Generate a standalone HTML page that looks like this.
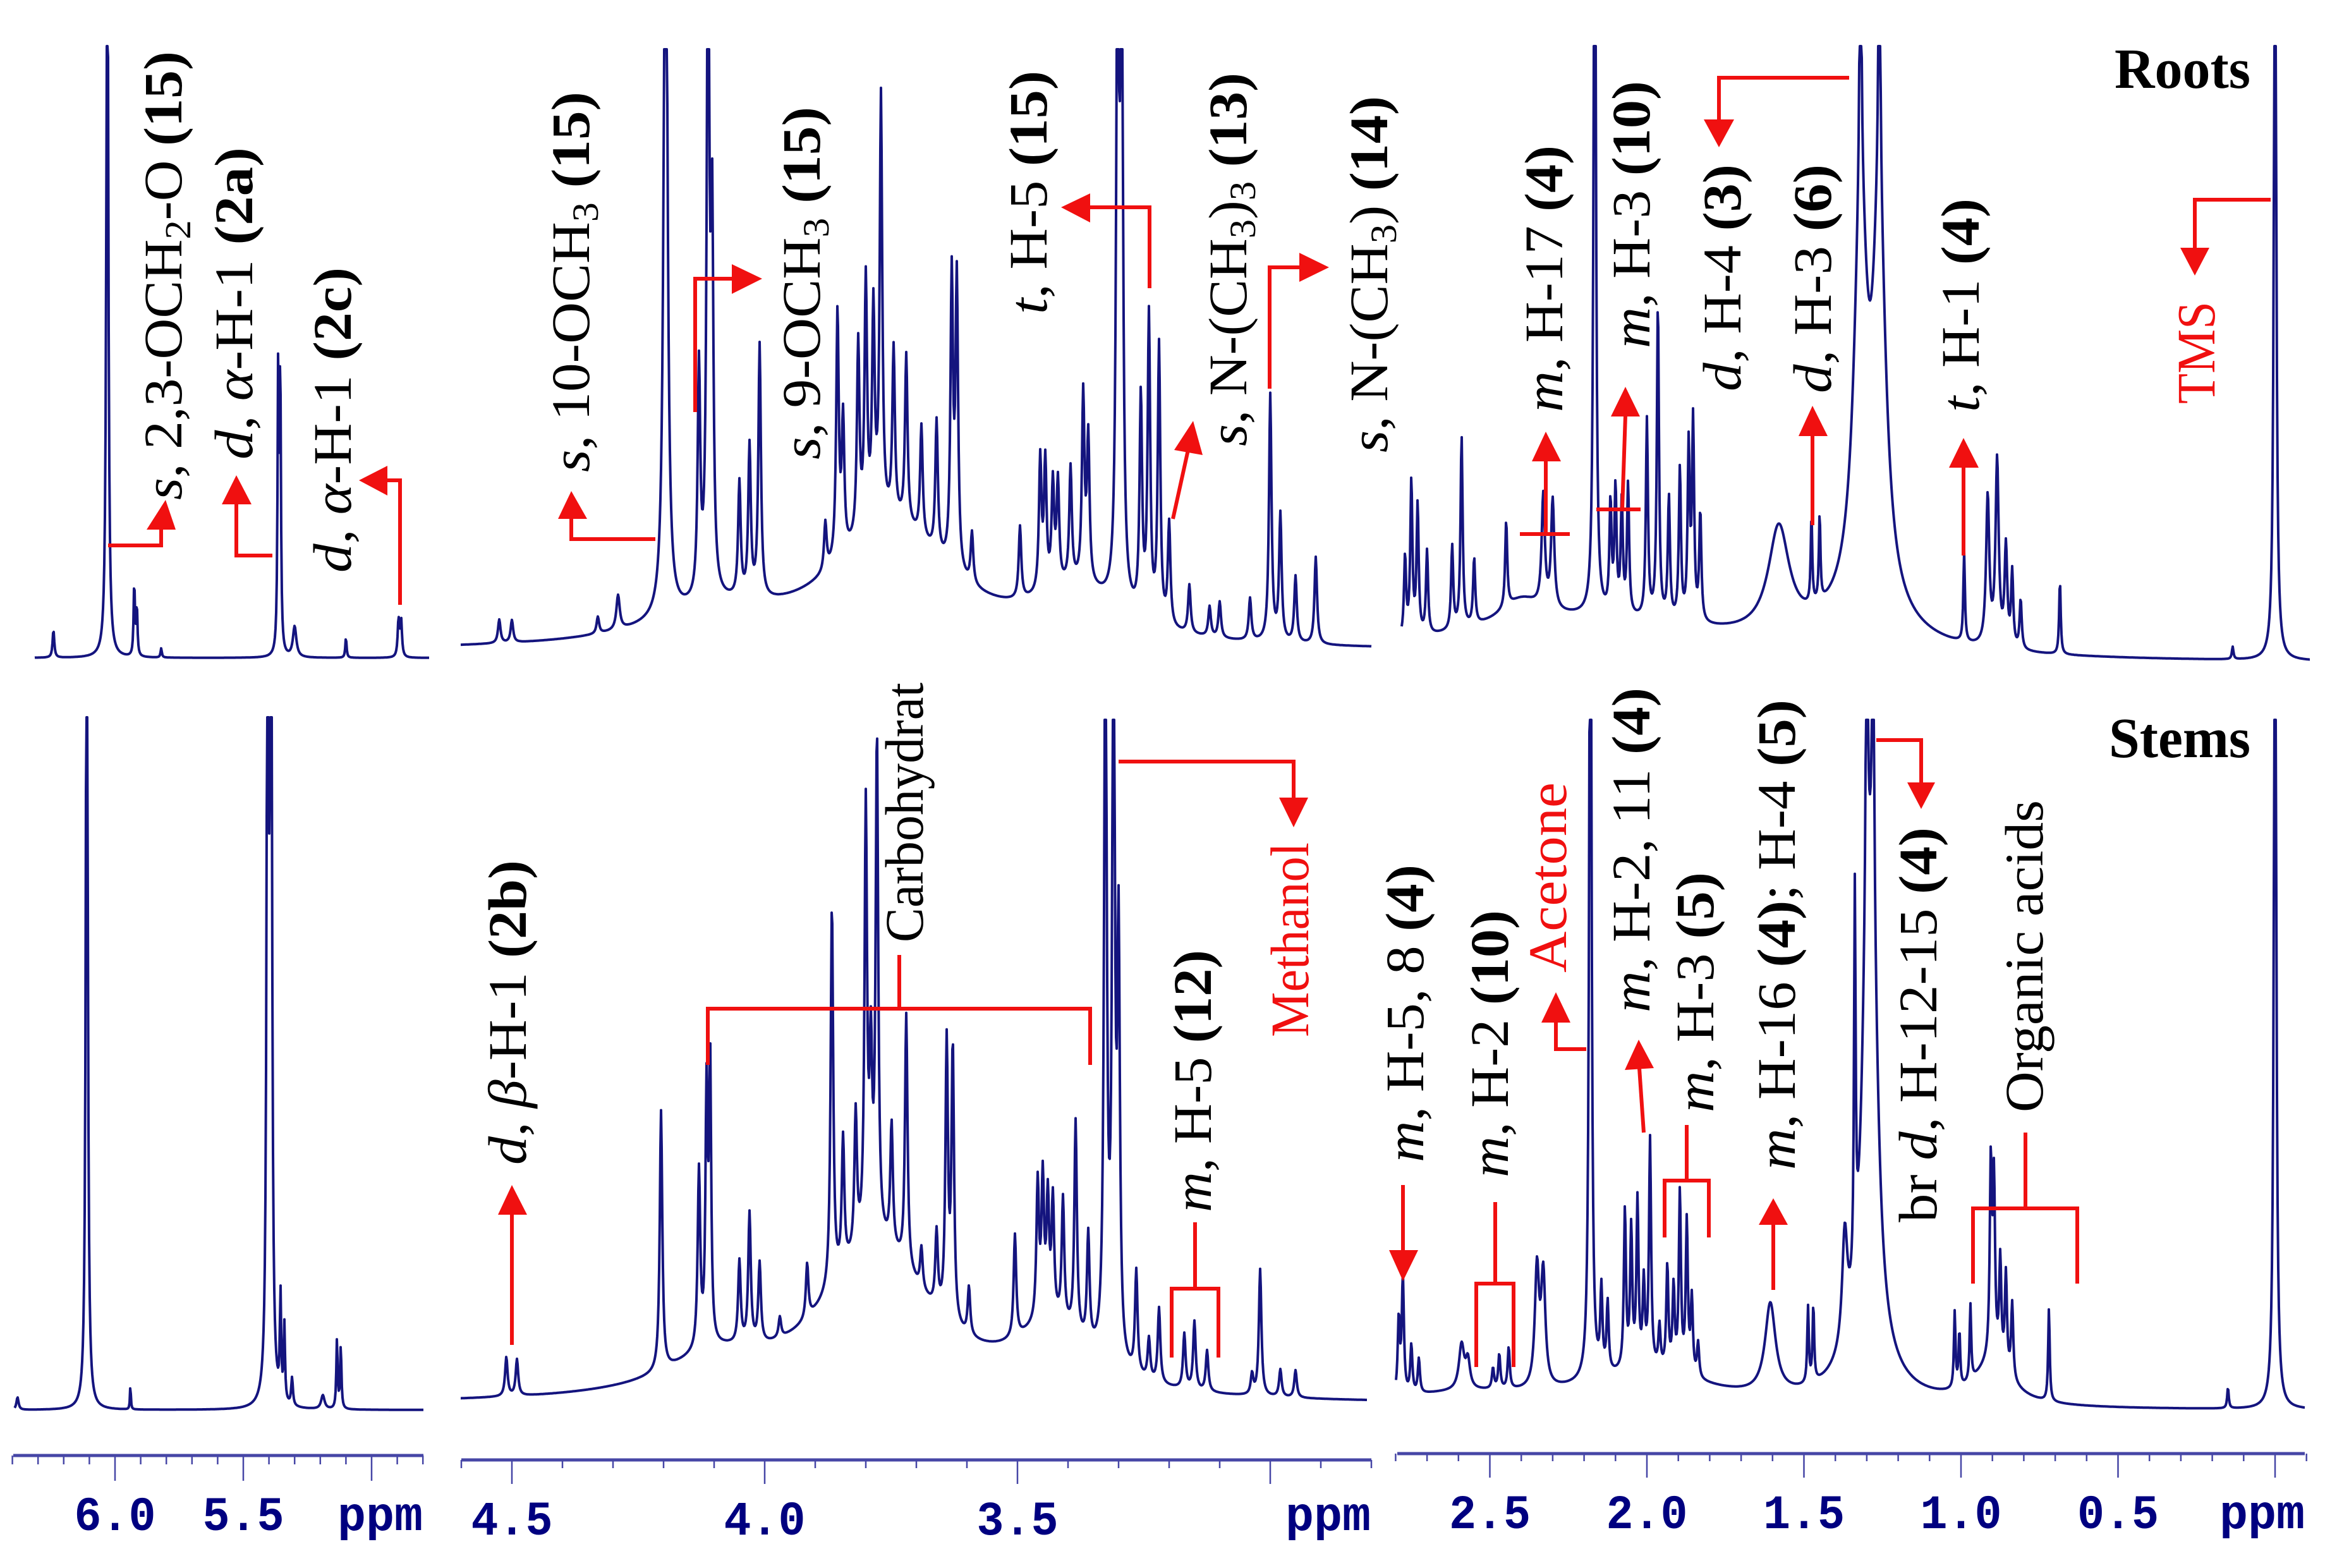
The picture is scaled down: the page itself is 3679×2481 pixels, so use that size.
<!DOCTYPE html>
<html>
<head>
<meta charset="utf-8">
<style>
html,body{margin:0;padding:0;background:#fff;}
svg{display:block;}
.lab{font-family:"Liberation Serif",serif;font-size:86px;fill:#000;}
.red{fill:#f01010;}
.ax{font-family:"Liberation Mono",monospace;font-weight:bold;font-size:76px;fill:#000080;}
.arr{fill:none;stroke:#f01010;stroke-width:6;}
.head{fill:#f01010;}
</style>
</head>
<body>
<svg id="fig" xmlns="http://www.w3.org/2000/svg" width="3679" height="2481" viewBox="0 0 3679 2481">
<rect x="0" y="0" width="3679" height="2481" fill="#fff"/>
<g id="spectra"></g>
<g id="axes"></g>

<text x="3346" y="139" font-family="Liberation Serif, serif" font-weight="bold" font-size="90" textLength="215" lengthAdjust="spacingAndGlyphs">Roots</text>
<text x="3337" y="1198" font-family="Liberation Serif, serif" font-weight="bold" font-size="90" textLength="224" lengthAdjust="spacingAndGlyphs">Stems</text>

<g>
<text class="lab" transform="translate(287,791) rotate(-90)" textLength="710" lengthAdjust="spacingAndGlyphs"><tspan font-style="italic">s</tspan>, 2,3-OCH<tspan font-size="58" dy="14">2</tspan><tspan dy="-14">-O </tspan><tspan font-weight="bold">(15)</tspan></text>
<text class="lab" transform="translate(399,727) rotate(-90)" textLength="494" lengthAdjust="spacingAndGlyphs"><tspan font-style="italic">d</tspan>, <tspan font-style="italic">α</tspan>-H-1 <tspan font-weight="bold">(2a)</tspan></text>
<text class="lab" transform="translate(555,906) rotate(-90)" textLength="483" lengthAdjust="spacingAndGlyphs"><tspan font-style="italic">d</tspan>, <tspan font-style="italic">α</tspan>-H-1 <tspan font-weight="bold">(2c)</tspan></text>
<text class="lab" transform="translate(932,747) rotate(-90)" textLength="602" lengthAdjust="spacingAndGlyphs"><tspan font-style="italic">s</tspan>, 10-OCH<tspan font-size="58" dy="14">3</tspan><tspan dy="-14"> </tspan><tspan font-weight="bold">(15)</tspan></text>
<text class="lab" transform="translate(1297,727) rotate(-90)" textLength="558" lengthAdjust="spacingAndGlyphs"><tspan font-style="italic">s</tspan>, 9-OCH<tspan font-size="58" dy="14">3</tspan><tspan dy="-14"> </tspan><tspan font-weight="bold">(15)</tspan></text>
<text class="lab" transform="translate(1656,497) rotate(-90)" textLength="385" lengthAdjust="spacingAndGlyphs"><tspan font-style="italic">t</tspan>, H-5 <tspan font-weight="bold">(15)</tspan></text>
<text class="lab" transform="translate(1972,706) rotate(-90)" textLength="591" lengthAdjust="spacingAndGlyphs"><tspan font-style="italic">s</tspan>, N-(CH<tspan font-size="58" dy="14">3</tspan><tspan dy="-14">)</tspan><tspan font-size="58" dy="14">3</tspan><tspan dy="-14"> </tspan><tspan font-weight="bold">(13)</tspan></text>
<text class="lab" transform="translate(2195,716) rotate(-90)" textLength="564" lengthAdjust="spacingAndGlyphs"><tspan font-style="italic">s</tspan>, N-(CH<tspan font-size="58" dy="14">3</tspan><tspan dy="-14">) </tspan><tspan font-weight="bold">(14)</tspan></text>
<text class="lab" transform="translate(2472,652) rotate(-90)" textLength="422" lengthAdjust="spacingAndGlyphs"><tspan font-style="italic">m</tspan>, H-17 <tspan font-weight="bold">(4)</tspan></text>
<text class="lab" transform="translate(2610,551) rotate(-90)" textLength="423" lengthAdjust="spacingAndGlyphs"><tspan font-style="italic">m</tspan>, H-3 <tspan font-weight="bold">(10)</tspan></text>
<text class="lab" transform="translate(2754,619) rotate(-90)" textLength="359" lengthAdjust="spacingAndGlyphs"><tspan font-style="italic">d</tspan>, H-4 <tspan font-weight="bold">(3)</tspan></text>
<text class="lab" transform="translate(2897,622) rotate(-90)" textLength="362" lengthAdjust="spacingAndGlyphs"><tspan font-style="italic">d</tspan>, H-3 <tspan font-weight="bold">(6)</tspan></text>
<text class="lab" transform="translate(3131,652) rotate(-90)" textLength="338" lengthAdjust="spacingAndGlyphs"><tspan font-style="italic">t</tspan>, H-1 <tspan font-weight="bold">(4)</tspan></text>
<text class="lab red" transform="translate(3504,639) rotate(-90)" textLength="162" lengthAdjust="spacingAndGlyphs">TMS</text>
</g>

<g>
<text class="lab" transform="translate(832,1843) rotate(-90)" textLength="482" lengthAdjust="spacingAndGlyphs"><tspan font-style="italic">d</tspan>, <tspan font-style="italic">β</tspan>-H-1 <tspan font-weight="bold">(2b)</tspan></text>
<text class="lab" transform="translate(1460,1491) rotate(-90)" textLength="411" lengthAdjust="spacingAndGlyphs">Carbohydrat</text>
<text class="lab" transform="translate(1916,1918) rotate(-90)" textLength="415" lengthAdjust="spacingAndGlyphs"><tspan font-style="italic">m</tspan>, H-5 <tspan font-weight="bold">(12)</tspan></text>
<text class="lab red" transform="translate(2070,1641) rotate(-90)" textLength="308" lengthAdjust="spacingAndGlyphs">Methanol</text>
<text class="lab" transform="translate(2252,1839) rotate(-90)" textLength="471" lengthAdjust="spacingAndGlyphs"><tspan font-style="italic">m</tspan>, H-5, 8 <tspan font-weight="bold">(4)</tspan></text>
<text class="lab" transform="translate(2386,1863) rotate(-90)" textLength="423" lengthAdjust="spacingAndGlyphs"><tspan font-style="italic">m</tspan>, H-2 <tspan font-weight="bold">(10)</tspan></text>
<text class="lab red" transform="translate(2478,1539) rotate(-90)" textLength="301" lengthAdjust="spacingAndGlyphs">Acetone</text>
<text class="lab" transform="translate(2610,1602) rotate(-90)" textLength="514" lengthAdjust="spacingAndGlyphs"><tspan font-style="italic">m</tspan>, H-2, 11 <tspan font-weight="bold">(4)</tspan></text>
<text class="lab" transform="translate(2711,1760) rotate(-90)" textLength="380" lengthAdjust="spacingAndGlyphs"><tspan font-style="italic">m</tspan>, H-3 <tspan font-weight="bold">(5)</tspan></text>
<text class="lab" transform="translate(2840,1851) rotate(-90)" textLength="744" lengthAdjust="spacingAndGlyphs"><tspan font-style="italic">m</tspan>, H-16 <tspan font-weight="bold">(4)</tspan>; H-4 <tspan font-weight="bold">(5)</tspan></text>
<text class="lab" transform="translate(3064,1934) rotate(-90)" textLength="625" lengthAdjust="spacingAndGlyphs">br <tspan font-style="italic">d</tspan>, H-12-15 <tspan font-weight="bold">(4)</tspan></text>
<text class="lab" transform="translate(3232,1760) rotate(-90)" textLength="494" lengthAdjust="spacingAndGlyphs">Organic acids</text>
</g>

<g>
<polyline class="arr" points="171,863 255,863 255,836"/>
<polygon class="head" points="232,838 278,838 262,791"/>
<polyline class="arr" points="431,879 374,879 374,796"/>
<polygon class="head" points="351,798 398,798 374,752"/>
<polyline class="arr" points="633,957 633,760 611,760"/>
<polygon class="head" points="613,737 613,784 568,760"/>
<polyline class="arr" points="1037,853 904,853 904,819"/>
<polygon class="head" points="883,821 929,821 904,777"/>
<polyline class="arr" points="1100,652 1100,441 1160,441"/>
<polygon class="head" points="1158,418 1158,465 1206,441"/>
<polyline class="arr" points="1819,456 1819,328 1723,328"/>
<polygon class="head" points="1725,306 1725,352 1679,328"/>
<polyline class="arr" points="1856,821 1880,712"/>
<polygon class="head" points="1858,712 1903,720 1888,666"/>
<polyline class="arr" points="2009,615 2009,423 2058,423"/>
<polygon class="head" points="2056,400 2056,446 2103,423"/>
<polyline class="arr" points="2405,845 2484,845"/>
<polyline class="arr" points="2446,845 2446,728"/>
<polygon class="head" points="2424,730 2470,730 2446,683"/>
<polyline class="arr" points="2526,806 2596,806"/>
<polyline class="arr" points="2567,806 2572,657"/>
<polygon class="head" points="2549,659 2595,659 2572,612"/>
<polyline class="arr" points="2926,123 2720,123 2720,191"/>
<polygon class="head" points="2696,189 2744,189 2720,233"/>
<polyline class="arr" points="2868,831 2868,688"/>
<polygon class="head" points="2846,690 2892,690 2868,642"/>
<polyline class="arr" points="3107,879 3107,738"/>
<polygon class="head" points="3084,740 3131,740 3107,693"/>
<polyline class="arr" points="3593,316 3473,316 3473,394"/>
<polygon class="head" points="3450,392 3496,392 3473,436"/>

<polyline class="arr" points="810,2128 810,1920"/>
<polygon class="head" points="788,1922 834,1922 810,1875"/>
<polyline class="arr" points="1120,1685 1120,1596 1725,1596 1725,1685"/>
<polyline class="arr" points="1423,1596 1423,1511"/>
<polyline class="arr" points="1854,2148 1854,2039 1928,2039 1928,2148"/>
<polyline class="arr" points="1891,2039 1891,1934"/>
<polyline class="arr" points="1770,1205 2047,1205 2047,1264"/>
<polygon class="head" points="2024,1262 2070,1262 2047,1309"/>
<polyline class="arr" points="2220,1875 2220,1980"/>
<polygon class="head" points="2198,1978 2244,1978 2220,2027"/>
<polyline class="arr" points="2336,2163 2336,2031 2395,2031 2395,2163"/>
<polyline class="arr" points="2366,2031 2366,1902"/>
<polyline class="arr" points="2510,1660 2462,1660 2462,1616"/>
<polygon class="head" points="2439,1618 2485,1618 2462,1570"/>
<polyline class="arr" points="2601,1792 2594,1690"/>
<polygon class="head" points="2571,1693 2617,1690 2593,1645"/>
<polyline class="arr" points="2634,1958 2634,1868 2704,1868 2704,1958"/>
<polyline class="arr" points="2669,1868 2669,1780"/>
<polyline class="arr" points="2806,2041 2806,1936"/>
<polygon class="head" points="2783,1938 2829,1938 2806,1896"/>
<polyline class="arr" points="2969,1171 3040,1171 3040,1240"/>
<polygon class="head" points="3018,1238 3062,1238 3040,1280"/>
<polyline class="arr" points="3122,2031 3122,1912 3287,1912 3287,2031"/>
<polyline class="arr" points="3205,1912 3205,1792"/>
</g>
</svg>

<script>
// Roots, panel 1
const rootsA_ppm = [6.24, 6.03, 5.925, 5.915, 5.82, 5.364, 5.356, 5.30, 5.10, 4.895, 4.885];
const rootsA_h   = [4.5, 150, 12, 8, 1.5, 46, 46, 5, 3.3, 6, 6];
const rootsA_w   = [0.004, 0.004, 0.003, 0.003, 0.003, 0.003, 0.003, 0.008, 0.003, 0.004, 0.004];
// Roots, panel 2
const rootsB_ppm = [4.525, 4.50, 4.33, 4.29, 4.10, 4.196, 4.13, 4.112, 4.104, 4.05, 4.03, 4.01, 3.75, 3.88, 3.856, 3.845, 3.815, 3.80, 3.785, 3.77, 3.745, 3.72, 3.69, 3.66, 3.63, 3.62, 3.59, 3.495, 3.38, 3.455, 3.445, 3.43, 3.42, 3.395, 3.37, 3.36, 3.302, 3.294, 3.256, 3.24, 3.22, 3.20, 3.16, 3.12, 3.10, 3.04, 3.00, 2.98, 2.95, 2.91];
const rootsB_h   = [3.9, 3.7, 2.8, 5.7, 5, 150, 38, 115, 60, 19, 25, 42, 20, 8, 41, 22, 32, 41, 35, 70, 28, 28, 18.5, 22, 48, 48, 8.5, 12, 8, 22, 21, 17, 17, 19, 31, 24, 115, 115, 36, 50, 46, 17, 8, 5, 6, 7, 41, 21, 11, 14.5];
const rootsB_w   = [0.003, 0.003, 0.003, 0.004, 0.15, 0.004, 0.003, 0.003, 0.003, 0.003, 0.003, 0.003, 0.14, 0.003, 0.003, 0.003, 0.003, 0.003, 0.003, 0.003, 0.003, 0.003, 0.003, 0.003, 0.003, 0.003, 0.003, 0.003, 0.1, 0.003, 0.003, 0.003, 0.003, 0.003, 0.003, 0.003, 0.003, 0.003, 0.003, 0.003, 0.003, 0.003, 0.003, 0.003, 0.003, 0.003, 0.003, 0.003, 0.003, 0.003];
// Roots, panel 3
const rootsC_ppm = [2.2, 2.77, 2.75, 2.73, 2.70, 2.62, 2.59, 2.55, 2.448, 2.40, 2.33, 2.30, 2.166, 2.116, 2.10, 2.08, 2.06, 2.00, 1.965, 1.93, 1.895, 1.867, 1.853, 1.83, 1.58, 1.476, 1.45, 1.3, 1.32, 1.32, 1.26, 1.26, 0.99, 0.915, 0.885, 0.857, 0.837, 0.81, 0.685, 0.135, 0.0];
const rootsC_h   = [7, 13, 25, 21, 13.5, 13.5, 31, 10.7, 14, 4, 18, 17.6, 150, 17.6, 20, 18, 21, 32, 51, 19.7, 24.5, 28, 32, 17.6, 17, 14, 14, 6, 60, 60, 60, 60, 14.5, 24, 30, 16, 12, 8, 12, 2, 150];
const rootsC_w   = [0.6, 0.004, 0.004, 0.004, 0.004, 0.004, 0.004, 0.004, 0.004, 0.08, 0.006, 0.006, 0.004, 0.004, 0.004, 0.004, 0.004, 0.004, 0.004, 0.004, 0.004, 0.004, 0.004, 0.004, 0.04, 0.003, 0.003, 0.15, 0.003, 0.025, 0.003, 0.025, 0.003, 0.006, 0.006, 0.005, 0.004, 0.004, 0.003, 0.003, 0.004];
// Stems, panel 1
const stemsA_ppm = [6.38, 6.11, 5.94, 5.405, 5.392, 5.355, 5.34, 5.31, 5.19, 5.135, 5.12];
const stemsA_h   = [1.8, 150, 3.6, 150, 150, 15, 11, 4, 2, 10, 9];
const stemsA_w   = [0.005, 0.004, 0.002, 0.004, 0.004, 0.003, 0.003, 0.004, 0.008, 0.003, 0.003];
// Stems, panel 2
const stemsB_ppm = [4.511, 4.49, 4.205, 4.10, 4.13, 4.115, 4.108, 4.05, 4.03, 4.01, 3.97, 3.916, 3.78, 3.867, 3.845, 3.82, 3.80, 3.79, 3.778, 3.749, 3.72, 3.69, 3.66, 3.64, 3.628, 3.596, 3.43, 3.505, 3.46, 3.45, 3.44, 3.43, 3.41, 3.385, 3.36, 3.326, 3.31, 3.30, 3.265, 3.24, 3.22, 3.17, 3.15, 3.125, 3.036, 3.02, 2.98, 2.95];
const stemsB_h   = [5.7, 5.3, 38, 5, 26, 36, 42, 12, 19, 11.6, 3, 8, 22, 56, 19, 20, 63, 25, 73, 18, 37, 6, 11, 40, 40, 7, 9, 15, 20, 20, 17, 17, 18, 31, 16, 115, 115, 60, 15, 6, 11, 8, 10, 6, 3, 18.5, 4, 4];
const stemsB_w   = [0.003, 0.003, 0.003, 0.12, 0.003, 0.0025, 0.0025, 0.003, 0.003, 0.003, 0.003, 0.003, 0.13, 0.003, 0.003, 0.003, 0.003, 0.003, 0.003, 0.003, 0.003, 0.003, 0.003, 0.003, 0.003, 0.003, 0.09, 0.003, 0.003, 0.003, 0.003, 0.003, 0.003, 0.003, 0.003, 0.003, 0.003, 0.003, 0.003, 0.003, 0.003, 0.003, 0.003, 0.003, 0.003, 0.003, 0.003, 0.003];
// Stems, panel 3
const stemsC_ppm = [2.0, 2.6, 2.79, 2.777, 2.75, 2.726, 2.59, 2.57, 2.49, 2.47, 2.44, 2.35, 2.33, 2.18, 2.145, 2.125, 2.07, 2.05, 2.03, 2.01, 1.99, 1.96, 1.935, 1.915, 1.895, 1.873, 1.857, 1.837, 1.607, 1.487, 1.47, 1.3, 1.37, 1.338, 1.30, 1.30, 1.28, 1.28, 1.02, 1.005, 0.97, 0.9, 0.905, 0.895, 0.875, 0.857, 0.837, 0.72, 0.15, 0.0];
const stemsC_h   = [5, 2, 11, 17, 7, 5, 6.5, 4, 3, 5, 6, 17, 16, 150, 12, 10, 23, 20, 24, 12, 33, 6, 15, 12, 26, 22, 11, 5, 13, 11, 11, 6, 16, 55, 60, 45, 60, 45, 11, 8, 11, 6, 28, 25, 15, 14, 11, 13.4, 3, 150];
const stemsC_w   = [0.25, 0.3, 0.004, 0.004, 0.004, 0.004, 0.01, 0.008, 0.004, 0.004, 0.004, 0.008, 0.008, 0.004, 0.004, 0.004, 0.004, 0.004, 0.004, 0.004, 0.004, 0.004, 0.004, 0.004, 0.004, 0.004, 0.004, 0.004, 0.02, 0.003, 0.003, 0.1, 0.01, 0.003, 0.003, 0.02, 0.003, 0.02, 0.003, 0.003, 0.003, 0.07, 0.004, 0.004, 0.004, 0.004, 0.004, 0.003, 0.003, 0.004];
// Axis tick labels
const axisA_labels = [6.0, 5.5];
const axisB_labels = [4.5, 4.0, 3.5];
const axisC_labels = [2.5, 2.0, 1.5, 1.0, 0.5];

const xA = p => 182 + (6.0 - p) * 406;
const xB = p => 810 + (4.5 - p) * 800;
const xC = p => 2357.5 + (2.5 - p) * 497;
const pA = x => 6.0 - (x - 182) / 406;
const pB = x => 4.5 - (x - 810) / 800;
const pC = x => 2.5 - (x - 2357.5) / 497;

const NS = "http://www.w3.org/2000/svg";
const gSpec = document.getElementById('spectra');
const gAx = document.getElementById('axes');

function drawSpectrum(name, ppm, h, w, inv, x0, x1, base, top) {
  const span = base - top;
  let d = '';
  for (let x = x0; x <= x1; x += 1) {
    const p = inv(x);
    let s = 0;
    for (let i = 0; i < ppm.length; i++) {
      const u = (p - ppm[i]) / w[i];
      s += h[i] / (1 + u * u);
    }
    let y = base - s / 100 * span;
    if (y < top) y = top;
    d += (x === x0 ? 'M' : 'L') + x + ' ' + y.toFixed(1);
  }
  const path = document.createElementNS(NS, 'path');
  path.setAttribute('d', d);
  path.setAttribute('fill', 'none');
  path.setAttribute('stroke', '#14147e');
  path.setAttribute('stroke-width', '4');
  path.setAttribute('stroke-linejoin', 'round');
  
  
  gSpec.appendChild(path);
}

drawSpectrum('roots-spectrum-left', rootsA_ppm, rootsA_h, rootsA_w, pA, 55, 679, 1041, 73);
drawSpectrum('roots-spectrum-middle', rootsB_ppm, rootsB_h, rootsB_w, pB, 729, 2170, 1030, 78);
drawSpectrum('roots-spectrum-right', rootsC_ppm, rootsC_h, rootsC_w, pC, 2218, 3655, 1051, 73);
drawSpectrum('stems-spectrum-left', stemsA_ppm, stemsA_h, stemsA_w, pA, 23, 670, 2231, 1135);
drawSpectrum('stems-spectrum-middle', stemsB_ppm, stemsB_h, stemsB_w, pB, 729, 2163, 2222, 1139);
drawSpectrum('stems-spectrum-right', stemsC_ppm, stemsC_h, stemsC_w, pC, 2209, 3647, 2232, 1139);

function drawAxis(name, xf, pHi, pLo, y, labels, majLen, minLen, xStart, xEnd) {
  const line = document.createElementNS(NS, 'line');
  line.setAttribute('x1', xStart); line.setAttribute('x2', xEnd);
  line.setAttribute('y1', y); line.setAttribute('y2', y);
  line.setAttribute('stroke', '#4646a6');
  line.setAttribute('stroke-width', '5');
  
  
  gAx.appendChild(line);
  const n = Math.round((pHi - pLo) * 10);
  for (let i = 0; i <= n; i++) {
    const p = pHi - i / 10;
    const major = Math.abs(p * 2 - Math.round(p * 2)) < 1e-6;
    const x = xf(p);
    const t = document.createElementNS(NS, 'line');
    t.setAttribute('x1', x); t.setAttribute('x2', x);
    t.setAttribute('y1', y); t.setAttribute('y2', y + (major ? majLen : minLen));
    t.setAttribute('stroke', '#4646a6');
    t.setAttribute('stroke-width', '2.5');
    
    
    gAx.appendChild(t);
  }
  labels.forEach(v => {
    const tx = document.createElementNS(NS, 'text');
    tx.setAttribute('x', xf(v));
    tx.setAttribute('y', y + 118);
    tx.setAttribute('text-anchor', 'middle');
    tx.setAttribute('class', 'ax');
    tx.setAttribute('textLength', '129');
    tx.setAttribute('lengthAdjust', 'spacingAndGlyphs');
    
    
    tx.textContent = v.toFixed(1);
    gAx.appendChild(tx);
  });
}

drawAxis('axis-left', xA, 6.4, 4.8, 2303, axisA_labels, 40, 14, 21, 670);
drawAxis('axis-middle', xB, 4.6, 2.8, 2310, axisB_labels, 38, 13, 730, 2170);
drawAxis('axis-right', xC, 2.8, -0.1, 2300, axisC_labels, 38, 12, 2211, 3647);

function ppmLabel(name, x, y) {
  const tx = document.createElementNS(NS, 'text');
  tx.setAttribute('x', x);
  tx.setAttribute('y', y);
  tx.setAttribute('class', 'ax');
  tx.setAttribute('textLength', '135');
  tx.setAttribute('lengthAdjust', 'spacingAndGlyphs');
  
  
  tx.textContent = 'ppm';
  gAx.appendChild(tx);
}
ppmLabel('axis-left-unit', 534, 2421);
ppmLabel('axis-middle-unit', 2034, 2421);
ppmLabel('axis-right-unit', 3512, 2418);
</script>
</body>
</html>
